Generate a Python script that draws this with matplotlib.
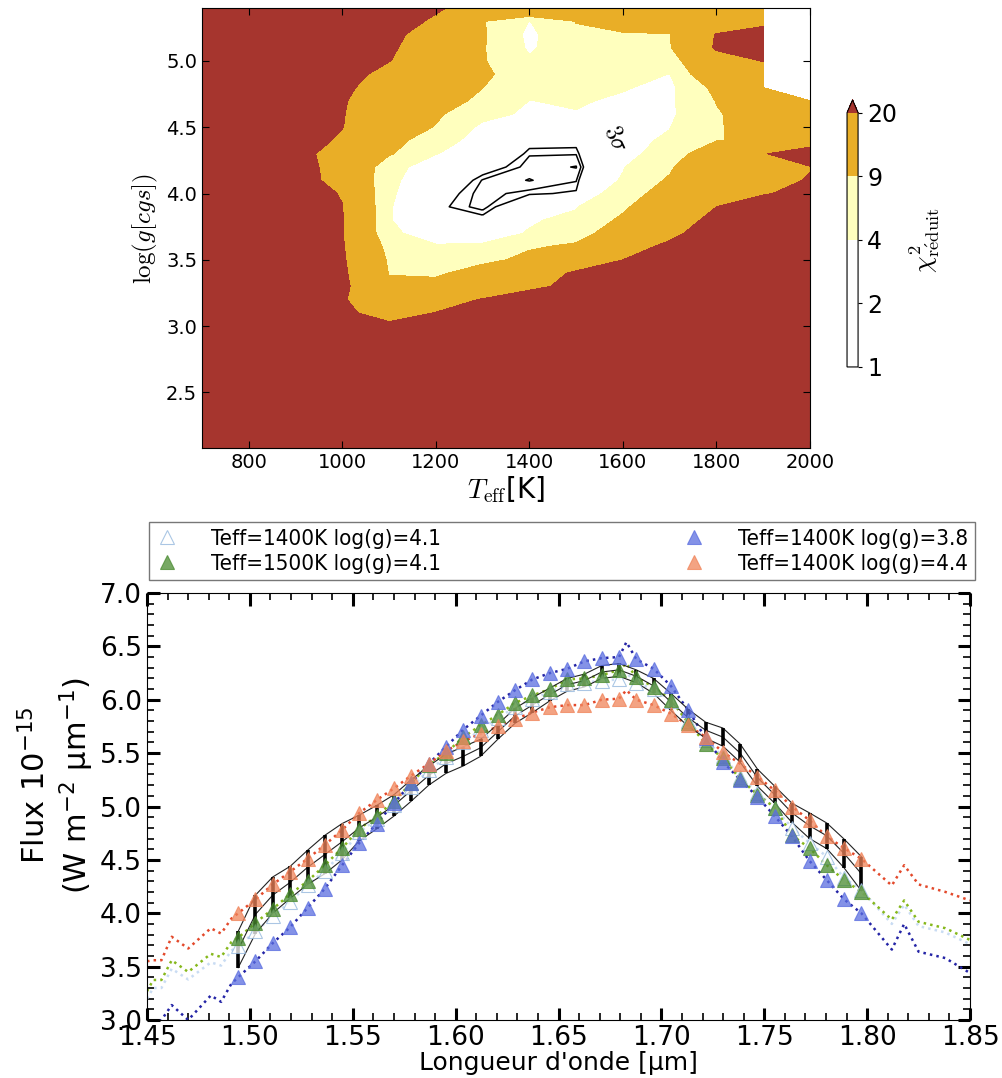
import numpy as np
import matplotlib
matplotlib.use('Agg')
import matplotlib.pyplot as plt
from matplotlib.ticker import MultipleLocator
from matplotlib.font_manager import FontProperties

nan = np.nan

# --- carte du chi2 reduit : lignes = log g, colonnes = Teff ---
teff_grid = [700, 800, 900, 1000, 1100, 1200, 1300, 1400, 1500, 1600, 1700, 1800, 1900, 2000]
logg_grid = [2.0, 2.5, 3.0, 3.1, 3.2, 3.3, 3.4, 3.5, 3.6, 3.7, 3.8, 3.9, 4.0, 4.1,
             4.2, 4.3, 4.4, 4.5, 4.6, 4.7, 4.8, 4.9, 5.0, 5.1, 5.2, 5.3, 5.4]
chi2_rows = [
    [80, 78, 75, 70, 66, 64, 63, 62, 62, 63, 65, 67, 70, 72],
    [72, 70, 66, 58, 52, 50, 50, 51, 52, 54, 56, 59, 62, 65],
    [60, 55, 48, 30, 21.5, 26, 33, 39, 44, 48, 52, 56, 60, 63],
    [58, 52, 45, 21.5, 17, 20.2, 27, 33, 38, 43, 48, 52, 56, 60],
    [55, 50, 42, 20.8, 13, 16, 20.5, 26, 32, 38, 43, 47, 52, 56],
    [52, 47, 40, 22, 10, 10.5, 13, 17.5, 23, 30, 37, 42, 48, 52],
    [50, 45, 38, 21.5, 8.8, 8.3, 11, 16, 21, 28, 34, 40, 45, 50],
    [48, 42, 35, 21, 8.2, 6.5, 8.0, 10, 15, 20, 27, 35, 40, 45],
    [45, 40, 32, 20.6, 7.0, 4.3, 4.4, 8.6, 9.6, 15, 22.5, 30, 37, 42],
    [42, 37, 30, 20.4, 4.6, 2.6, 2.8, 4.2, 7.5, 11.3, 17, 27, 34, 40],
    [40, 35, 28, 20.3, 4.15, 1.9, 1.7, 3.7, 4.7, 10.1, 16, 22.2, 30, 38],
    [38, 33, 27, 20.2, 4.2, 1.65, 1.3, 2.2, 3.8, 8.0, 14.5, 20, 28, 35],
    [36, 31, 25, 19.4, 4.4, 1.8, 1.3, 1.5, 1.6, 6.0, 12, 15, 19, 24],
    [34, 29, 23, 17.5, 4.6, 2.2, 1.38, 1.13, 1.38, 4.3, 9.8, 13, 16, 20.8],
    [33, 28, 22, 18, 5.0, 2.6, 1.8, 1.3, 1.13, 3.8, 8.0, 18, 19.8, 19.5],
    [34, 29, 23, 16, 9.6, 4.1, 2.5, 1.42, 1.42, 3.6, 4.6, 15.6, 19.2, 28],
    [36, 31, 25, 18.5, 11, 6.0, 2.2, 1.75, 1.7, 3.0, 4.5, 8.8, 10, 12],
    [38, 33, 26, 20.2, 12.5, 8.7, 3.0, 2.3, 2.2, 2.4, 3.9, 8.8, 10, 12.5],
    [40, 35, 27, 20.4, 14, 9.8, 5.5, 3.2, 3.8, 3.0, 3.2, 8.6, 11.5, 13.5],
    [42, 37, 28, 20.8, 14, 10.5, 8.3, 3.95, 4.4, 3.4, 3.3, 9.2, 13, 15],
    [45, 40, 30, 22, 15, 10.5, 9.05, 6.5, 5.5, 4.3, 3.0, 10.5, 14, nan],
    [48, 42, 33, 25, 16, 11.5, 9.5, 7.5, 6.0, 5.0, 3.95, 15, 17, nan],
    [50, 44, 36, 27, 20.3, 13, 9.4, 4.6, 6.5, 6.0, 6.5, 16.5, 20.2, nan],
    [53, 47, 39, 30, 21.5, 14, 9.4, 3.4, 7.0, 6.8, 8.6, 21, 30, nan],
    [56, 50, 42, 33, 23, 14.5, 9.6, 3.0, 8.0, 8.5, 8.8, 20.5, 30, nan],
    [60, 55, 46, 38, 28, 17.5, 9.3, 3.9, 9.2, 11.5, 12, 13, 13.5, nan],
    [62, 58, 50, 42, 33, 22, 13, 18, 11.5, 12, 12, 13, 14, nan],
]
chi2_levels = [1, 2, 4, 9, 20]
sigma_levels = [1.15, 1.4, 1.55]

# --- spectre observe et modeles ---
wl = [1.4943, 1.5027, 1.5111, 1.5196, 1.5280, 1.5364, 1.5448, 1.5532, 1.5616, 1.5700,
      1.5784, 1.5869, 1.5953, 1.6037, 1.6121, 1.6205, 1.6289, 1.6373, 1.6458, 1.6542,
      1.6626, 1.6710, 1.6794, 1.6878, 1.6962, 1.7046, 1.7131, 1.7215, 1.7299, 1.7383,
      1.7467, 1.7551, 1.7635, 1.7720, 1.7804, 1.7888, 1.7972]
flux_obs = [3.66, 3.99, 4.17, 4.29, 4.43, 4.55, 4.67, 4.80, 4.90, 5.01, 5.15, 5.29, 5.40,
            5.47, 5.55, 5.70, 5.85, 5.95, 6.05, 6.14, 6.18, 6.26, 6.28, 6.22, 6.13, 5.98,
            5.83, 5.715, 5.65, 5.50, 5.27, 5.11, 4.94, 4.82, 4.725, 4.56, 4.37]
err_obs = [0.17, 0.18, 0.17, 0.15, 0.16, 0.18, 0.17, 0.12, 0.11, 0.10, 0.10, 0.09, 0.09,
           0.09, 0.08, 0.07, 0.07, 0.07, 0.06, 0.06, 0.06, 0.06, 0.06, 0.06, 0.07, 0.08,
           0.08, 0.075, 0.085, 0.085, 0.08, 0.08, 0.09, 0.12, 0.12, 0.135, 0.16]

mod_1400_41 = [3.69, 3.83, 3.97, 4.11, 4.26, 4.40, 4.56, 4.76, 4.88, 5.01, 5.18, 5.34, 5.46,
               5.60, 5.72, 5.83, 5.93, 6.01, 6.07, 6.15, 6.16, 6.18, 6.19, 6.16, 6.10, 5.99,
               5.80, 5.62, 5.47, 5.28, 5.13, 4.99, 4.80, 4.66, 4.53, 4.33, 4.22]
mod_1500_41 = [3.77, 3.91, 4.04, 4.18, 4.30, 4.45, 4.61, 4.79, 4.91, 5.05, 5.22, 5.39, 5.50,
               5.65, 5.76, 5.86, 5.97, 6.04, 6.10, 6.19, 6.20, 6.23, 6.28, 6.21, 6.12, 6.00,
               5.78, 5.59, 5.45, 5.26, 5.11, 4.99, 4.73, 4.61, 4.45, 4.31, 4.20]
mod_1400_38 = [3.40, 3.55, 3.72, 3.87, 4.05, 4.23, 4.45, 4.66, 4.84, 5.03, 5.22, 5.40, 5.56,
               5.72, 5.85, 5.98, 6.09, 6.19, 6.25, 6.29, 6.36, 6.39, 6.40, 6.38, 6.29, 6.13,
               5.90, 5.64, 5.42, 5.25, 5.09, 4.91, 4.72, 4.49, 4.31, 4.13, 4.00]
mod_1400_44 = [4.00, 4.13, 4.27, 4.39, 4.51, 4.64, 4.78, 4.94, 5.06, 5.17, 5.29, 5.40, 5.52,
               5.61, 5.68, 5.75, 5.82, 5.88, 5.93, 5.95, 5.95, 6.00, 6.01, 6.00, 5.95, 5.87,
               5.76, 5.65, 5.51, 5.40, 5.28, 5.15, 5.00, 4.87, 4.72, 4.61, 4.51]

# points des spectres modeles hors des canaux observes
ext_wl = [1.450, 1.453, 1.457, 1.462, 1.470, 1.481, 1.486, 1.491, 1.683,
          1.812, 1.818, 1.825, 1.838, 1.850]
ext_1400_41 = [3.20, 3.30, 3.30, 3.48, 3.38, 3.54, 3.51, 3.65, 6.25, 3.90, 4.08, 3.88, 3.82, 3.71]
ext_1500_41 = [3.27, 3.375, 3.375, 3.56, 3.45, 3.62, 3.59, 3.73, 6.34, 3.94, 4.12, 3.92, 3.86, 3.75]
ext_1400_38 = [2.85, 2.95, 3.00, 3.14, 3.00, 3.23, 3.17, 3.34, 6.54, 3.66, 3.90, 3.64, 3.58, 3.44]
ext_1400_44 = [3.55, 3.56, 3.56, 3.78, 3.67, 3.86, 3.81, 3.95, 6.09, 4.26, 4.45, 4.27, 4.20, 4.12]

labels = ['Teff=1400K log(g)=4.1', 'Teff=1500K log(g)=4.1',
          'Teff=1400K log(g)=3.8', 'Teff=1400K log(g)=4.4']

fig = plt.figure(figsize=(10.03, 10.78), dpi=100)

# ================= carte chi2 =================
ax1 = fig.add_axes([0.2014, 0.5844, 0.6062, 0.4082])
Z = np.ma.masked_invalid(np.array(chi2_rows))
cf = ax1.contourf(teff_grid, logg_grid, Z, levels=chi2_levels,
                  colors=['white', 'white', '#FFFFBE', '#E9AE27', '#A6352E'],
                  extend='max')
ax1.contour(teff_grid, logg_grid, Z, levels=sigma_levels, colors='black', linewidths=1.1)
ax1.text(1585, 4.42, r'$3\sigma$', rotation=-65, fontsize=17, ha='center', va='center',
         math_fontfamily='cm')
ax1.set_xlim(700, 2000)
ax1.set_ylim(2.08, 5.4)
ax1.set_xticks([800, 1000, 1200, 1400, 1600, 1800, 2000])
ax1.set_yticks([2.5, 3.0, 3.5, 4.0, 4.5, 5.0])
ax1.tick_params(direction='in', top=True, right=True, labelsize=14, length=5)
ax1.set_xlabel(r'$T_{\rm eff}$[K]', fontsize=20, math_fontfamily='cm', labelpad=2)
ax1.set_ylabel(r'$\log(g[cgs])$', fontsize=18, math_fontfamily='cm')

cax = fig.add_axes([0.8445, 0.6596, 0.011, 0.2477])
cb = fig.colorbar(cf, cax=cax, ticks=chi2_levels)
cb.set_ticklabels([str(v) for v in chi2_levels])
cb.ax.tick_params(labelsize=17, length=3)
cb.set_label(r'$\chi^2_{\mathrm{r\acute{e}duit}}$', fontsize=19, math_fontfamily='cm', labelpad=8)

# ================= spectre =================
ax2 = fig.add_axes([0.1466, 0.0538, 0.8205, 0.3961])

models = [
    (mod_1400_41, ext_1400_41, '#c9dcf3', 'white', '#8fb4dc'),
    (mod_1500_41, ext_1500_41, '#86b81c', '#4a8b30', '#4a8b30'),
    (mod_1400_38, ext_1400_38, '#2424a6', '#5b6ee0', '#5b6ee0'),
    (mod_1400_44, ext_1400_44, '#e3492b', '#f0845a', '#f0845a'),
]

for mod, ext, lcol, fcol, ecol in models:
    x = np.concatenate([wl, ext_wl])
    y = np.concatenate([mod, ext])
    order = np.argsort(x)
    ax2.plot(x[order], y[order], ls=':', lw=1.8, color=lcol, zorder=2)

obs = np.array(flux_obs)
err = np.array(err_obs)
ax2.plot(wl, obs, color='#222222', lw=0.8, zorder=3)
ax2.plot(wl, obs + err, color='#222222', lw=0.8, zorder=3)
ax2.plot(wl, obs - err, color='#222222', lw=0.8, zorder=3)
ax2.vlines(wl, obs - err, obs + err, color='black', lw=2.6, zorder=3)

for (mod, ext, lcol, fcol, ecol), lab in zip(models, labels):
    ax2.plot(wl, mod, ls='none', marker='^', ms=10, mfc=fcol, mec=ecol, mew=0.8,
             alpha=0.75, label=lab, zorder=4)

ax2.set_xlim(1.45, 1.85)
ax2.set_ylim(3.0, 7.0)
ax2.xaxis.set_major_locator(MultipleLocator(0.05))
ax2.xaxis.set_minor_locator(MultipleLocator(0.01))
ax2.yaxis.set_major_locator(MultipleLocator(0.5))
ax2.yaxis.set_minor_locator(MultipleLocator(0.1))
ax2.tick_params(which='both', direction='in', top=True, right=True, labelsize=19)
ax2.tick_params(which='major', length=9, width=2.2)
ax2.tick_params(which='minor', length=5, width=1.2)
ax2.set_xlabel("Longueur d'onde [µm]", fontsize=18, labelpad=0)
ax2.set_ylabel('Flux 10$^{-15}$\n(W m$^{-2}$ µm$^{-1}$)', fontsize=22)
ax2.yaxis.set_label_coords(-0.062, 0.55)

leg_font = FontProperties(family='DejaVu Sans', stretch='condensed', size=16)
ax2.legend(loc='lower left', bbox_to_anchor=(0.0024, 1.03, 1.0036, 0.1475), mode='expand',
           ncol=2, borderaxespad=0, fancybox=False, edgecolor='#555555', prop=leg_font,
           numpoints=1, handlelength=1.0, handletextpad=1.5, borderpad=0.3,
           labelspacing=0.2)

fig.savefig('out.png', dpi=100)
